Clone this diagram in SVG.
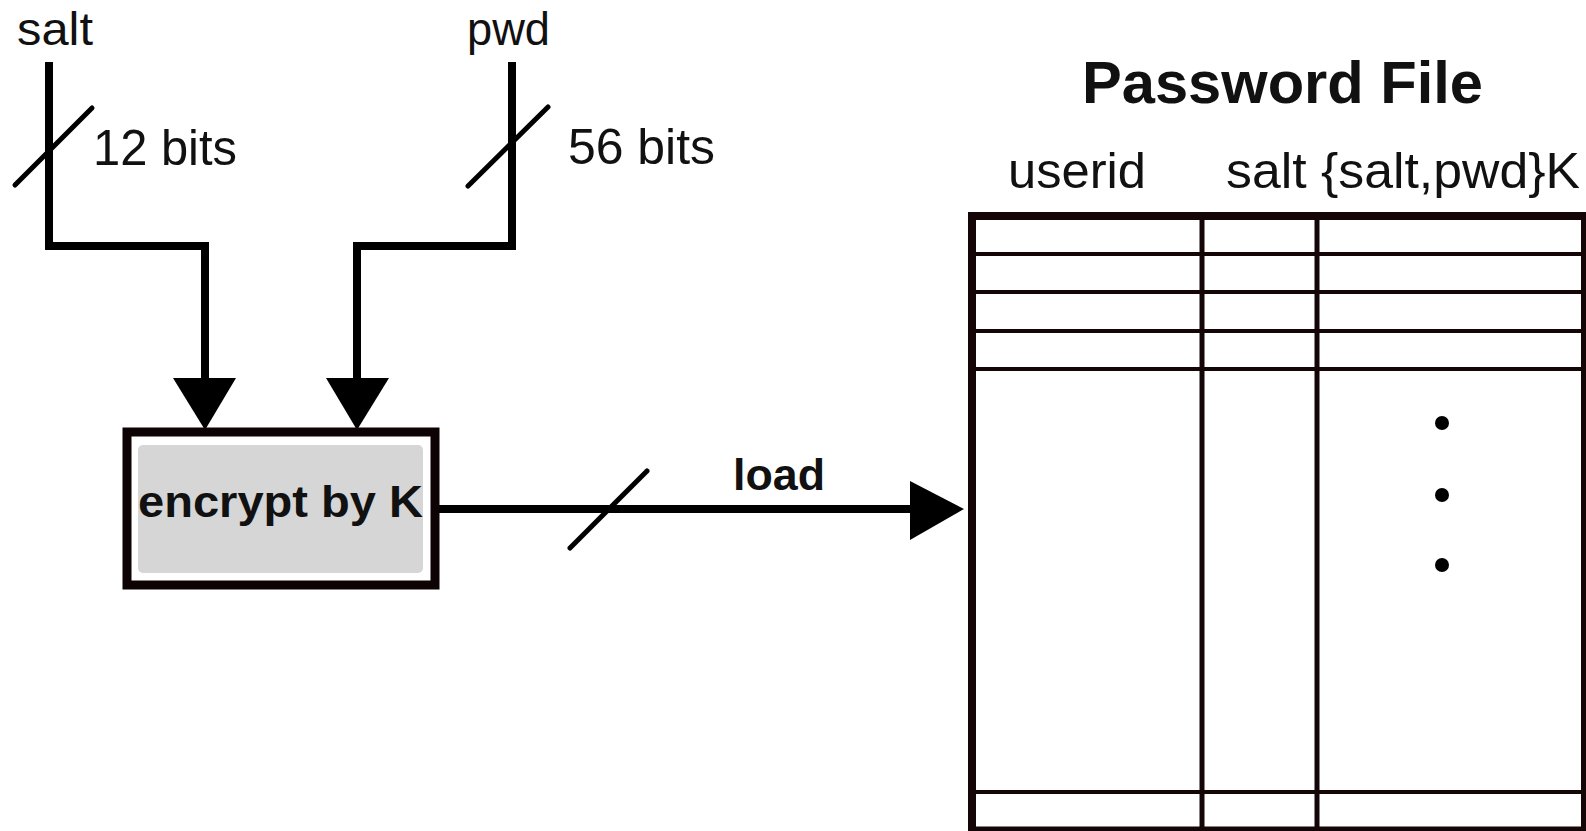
<svg xmlns="http://www.w3.org/2000/svg" width="1586" height="831" viewBox="0 0 1586 831">
<style>
.t{font-family:"Liberation Sans",Arial,sans-serif;fill:#111;}
.b{font-weight:bold;}
.w{fill:none;stroke:#000;stroke-linejoin:miter;stroke-linecap:butt;}
.s{stroke:#000;stroke-width:5;stroke-linecap:round;}
.g{stroke:#140606;fill:none;}
</style>
<rect width="1586" height="831" fill="#fff"/>
<g id="connectors">
  <path class="w" d="M49,62 V246 H205 V382" stroke-width="8"/>
  <polygon points="173,378 236,378 205,430" fill="#000"/>
  <path class="w" d="M512,62 V246 H357 V382" stroke-width="8"/>
  <polygon points="326,378 389,378 357,430" fill="#000"/>
  <line class="s" x1="15" y1="185" x2="92" y2="108"/>
  <line class="s" x1="468" y1="186" x2="548" y2="107"/>
  <line class="w" x1="438" y1="509" x2="914" y2="509" stroke-width="8"/>
  <polygon points="910,481 964,509 910,540" fill="#000"/>
  <line class="s" x1="570" y1="548" x2="647" y2="471"/>
</g>
<g id="labels">
  <text class="t" x="17" y="45" font-size="46" textLength="76" lengthAdjust="spacingAndGlyphs">salt</text>
  <text class="t" x="467" y="45" font-size="46" textLength="83" lengthAdjust="spacingAndGlyphs">pwd</text>
  <text class="t" x="93" y="165" font-size="50" textLength="144" lengthAdjust="spacingAndGlyphs">12 bits</text>
  <text class="t" x="568" y="164" font-size="50" textLength="147" lengthAdjust="spacingAndGlyphs">56 bits</text>
  <text class="t b" x="733" y="490" font-size="45" textLength="92" lengthAdjust="spacingAndGlyphs">load</text>
</g>
<g id="encrypt">
  <rect x="127" y="432" width="308" height="153" fill="#fff" stroke="#0d0303" stroke-width="9"/>
  <rect x="138" y="445" width="285" height="128" rx="5" fill="#d6d6d6"/>
  <text class="t b" x="138" y="517" font-size="45" textLength="285" lengthAdjust="spacingAndGlyphs">encrypt by K</text>
</g>
<g id="password-file">
  <text class="t b" x="1082" y="103" font-size="60" textLength="401" lengthAdjust="spacingAndGlyphs">Password File</text>
  <text class="t" x="1008" y="188" font-size="50" textLength="138" lengthAdjust="spacingAndGlyphs">userid</text>
  <text class="t" x="1226" y="188" font-size="50" textLength="354" lengthAdjust="spacingAndGlyphs">salt {salt,pwd}K</text>
  <g class="g">
    <line x1="968" y1="216" x2="1586" y2="216" stroke-width="8"/>
    <line x1="972" y1="212" x2="972" y2="831" stroke-width="8"/>
    <line x1="1583.5" y1="212" x2="1583.5" y2="831" stroke-width="5"/>
    <line x1="968" y1="829" x2="1586" y2="829" stroke-width="5"/>
    <line x1="972" y1="254" x2="1584" y2="254" stroke-width="4"/>
    <line x1="972" y1="292" x2="1584" y2="292" stroke-width="4"/>
    <line x1="972" y1="331" x2="1584" y2="331" stroke-width="4"/>
    <line x1="972" y1="369" x2="1584" y2="369" stroke-width="4"/>
    <line x1="972" y1="792" x2="1584" y2="792" stroke-width="4"/>
    <line x1="1202" y1="216" x2="1202" y2="831" stroke-width="5"/>
    <line x1="1317" y1="216" x2="1317" y2="831" stroke-width="5"/>
  </g>
  <circle cx="1442" cy="423" r="7" fill="#000"/>
  <circle cx="1442" cy="495" r="7" fill="#000"/>
  <circle cx="1442" cy="565" r="7" fill="#000"/>
</g>
</svg>
